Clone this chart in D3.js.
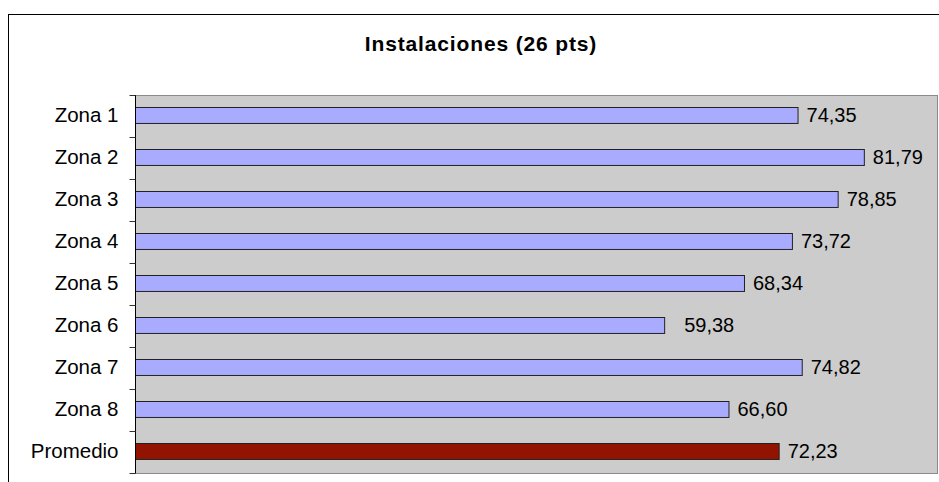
<!DOCTYPE html>
<html>
<head>
<meta charset="utf-8">
<script src="https://cdn.jsdelivr.net/npm/d3@7/dist/d3.min.js"></script>
<style>
  html, body { margin: 0; padding: 0; background: #fff; }
  svg { display: block; font-family: Arial, "Liberation Sans", sans-serif; }
</style>
</head>
<body>
<svg id="chart" width="939" height="482"></svg>
<script>
const title = "Instalaciones (26 pts)";
const categories = ["Zona 1", "Zona 2", "Zona 3", "Zona 4", "Zona 5", "Zona 6", "Zona 7", "Zona 8", "Promedio"];
const values = [74.35, 81.79, 78.85, 73.72, 68.34, 59.38, 74.82, 66.60, 72.23];
const xDomain = [0, 90];

const svg = d3.select("#chart");
const W = 939, H = 482;
const plot = { left: 135, right: 937, top: 95, bottom: 473 };

// outer chart frame
svg.append("rect")
  .attr("x", 8.5).attr("y", 14.5)
  .attr("width", W + 10).attr("height", H + 10)
  .attr("fill", "#fff").attr("stroke", "#000").attr("stroke-width", 1);

const x = d3.scaleLinear().domain(xDomain).range([plot.left, plot.right]);
const y = d3.scaleBand().domain(categories).range([plot.top, plot.bottom]).padding(0);

// plot area
svg.append("rect")
  .attr("x", plot.left + 0.5).attr("y", plot.top + 0.5)
  .attr("width", plot.right - plot.left).attr("height", plot.bottom - plot.top)
  .attr("fill", "#cccccc").attr("stroke", "#8a8a8a").attr("stroke-width", 1);

// title
svg.append("text")
  .attr("x", 481).attr("y", 51)
  .attr("text-anchor", "middle")
  .attr("font-size", 21).attr("font-weight", "bold")
  .attr("letter-spacing", 0.85)
  .attr("fill", "#000")
  .text(title);

const data = categories.map((c, i) => ({ c, v: values[i] }));
const barH = y.bandwidth() * 0.38;

svg.append("g").selectAll("rect").data(data).join("rect")
  .attr("x", x(0) + 0.5)
  .attr("y", d => Math.round(y(d.c) + (y.bandwidth() - barH) / 2 - 1) + 0.5)
  .attr("width", d => x(d.v) - x(0))
  .attr("height", barH)
  .attr("fill", d => d.c === "Promedio" ? "#921400" : "#a9abff")
  .attr("stroke", "#222").attr("stroke-width", 1);

const fmt = v => v.toFixed(2).replace(".", ",");
const extraDx = { "Zona 6": 11 };
svg.append("g").selectAll("text").data(data).join("text")
  .attr("x", d => x(d.v) + 9 + (extraDx[d.c] || 0))
  .attr("y", d => y(d.c) + y.bandwidth() / 2 - 1)
  .attr("dy", "0.35em")
  .attr("font-size", 20).attr("fill", "#000")
  .text(d => fmt(d.v));

// y axis
const yAxisScale = d3.scaleLinear().domain([0, categories.length]).range([plot.top, plot.bottom]);
const axis = svg.append("g").attr("transform", `translate(${plot.left + 0.5},0)`);
axis.append("line")
  .attr("y1", plot.top).attr("y2", plot.bottom + 0.5)
  .attr("stroke", "#000");
axis.selectAll("line.tick").data(d3.range(categories.length + 1)).join("line")
  .attr("class", "tick")
  .attr("x1", -6).attr("x2", 0)
  .attr("y1", d => Math.round(yAxisScale(d)) + 0.5)
  .attr("y2", d => Math.round(yAxisScale(d)) + 0.5)
  .attr("stroke", "#333");
axis.selectAll("text").data(categories).join("text")
  .attr("x", -17)
  .attr("y", d => y(d) + y.bandwidth() / 2 - 1)
  .attr("dy", "0.35em")
  .attr("text-anchor", "end")
  .attr("font-size", 20.5).attr("fill", "#000")
  .text(d => d);
</script>
</body>
</html>
